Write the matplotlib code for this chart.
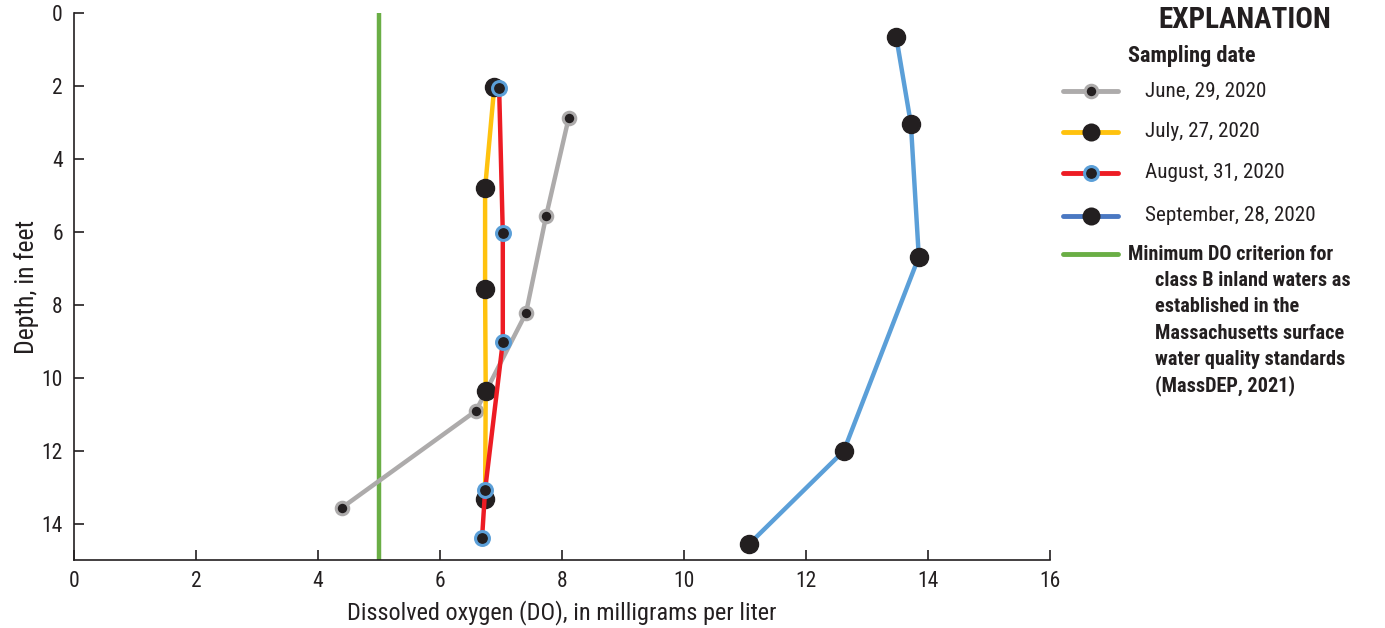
import matplotlib
matplotlib.use("Agg")
import matplotlib.pyplot as plt
from matplotlib.lines import Line2D

plt.rcParams["font.family"] = ["Roboto Condensed", "DejaVu Sans"]

# June 29, 2020
june_do = [8.11, 7.74, 7.41, 6.59, 4.39]
june_depth = [2.88, 5.57, 8.23, 10.91, 13.57]
# July 27, 2020
july_do = [6.89, 6.74, 6.74, 6.75, 6.74]
july_depth = [2.03, 4.80, 7.57, 10.36, 13.33]
# August 31, 2020
aug_do = [6.97, 7.03, 7.03, 6.74, 6.69]
aug_depth = [2.06, 6.03, 9.02, 13.08, 14.40]
# September 28, 2020
sep_do = [13.48, 13.72, 13.85, 12.62, 11.07]
sep_depth = [0.66, 3.04, 6.69, 12.01, 14.56]

min_do = 5.0

gray = "#ADABAB"
yellow = "#FFC20E"
red = "#ED1C24"
blue = "#5B9FD8"
blue_leg = "#4A78C2"
green = "#6AAE45"
dot = "#231F20"

fig = plt.figure(figsize=(13.85, 6.28), dpi=100)
ax = fig.add_axes([0.0534, 0.1083, 0.7047, 0.871])

ax.axvline(min_do, color=green, lw=3.2, zorder=1)
ax.plot(june_do, june_depth, color=gray, lw=3.2, marker="o", ms=9,
        mfc=dot, mec=gray, mew=2.2, zorder=2)
ax.plot(july_do, july_depth, color=yellow, lw=3.2, marker="o", ms=13,
        mfc=dot, mec=dot, zorder=3)
ax.plot(aug_do, aug_depth, color=red, lw=3.2, marker="o", ms=10,
        mfc=dot, mec=blue, mew=2.2, zorder=4)
ax.plot(sep_do, sep_depth, color=blue, lw=3.2, marker="o", ms=13,
        mfc=dot, mec=dot, zorder=3)

ax.set_xlim(0, 16)
ax.set_ylim(15, 0)
ax.set_xticks(range(0, 17, 2))
ax.set_yticks(range(0, 15, 2))
ax.tick_params(direction="in", length=7, width=1.2, labelsize=15.5, colors="#231F20", pad=8)
ax.spines["top"].set_visible(False)
ax.spines["right"].set_visible(False)
for s in ("left", "bottom"):
    ax.spines[s].set_linewidth(1.2)
    ax.spines[s].set_color("#231F20")
ax.set_xlabel("Dissolved oxygen (DO), in milligrams per liter", fontsize=17.5,
              labelpad=6, color="#231F20")
ax.set_ylabel("Depth, in feet", fontsize=18.5, labelpad=2, color="#231F20")

# explanation / legend, drawn in figure pixels
W, H = 1385, 628
def fx(px):
    return px / W
def fy(py):
    return 1 - py / H

fig.text(fx(1245), fy(20), "EXPLANATION", fontsize=21, fontweight="bold",
         ha="center", va="center", color="#231F20")
fig.text(fx(1128), fy(56), "Sampling date", fontsize=16, fontweight="bold",
         ha="left", va="center", color="#231F20")

entries = [
    ("June, 29, 2020", gray, 9, gray, 2.2),
    ("July, 27, 2020", yellow, 13, dot, 0),
    ("August, 31, 2020", red, 10, blue, 2.2),
    ("September, 28, 2020", blue_leg, 13, dot, 0),
]
ys = [91, 132, 173, 216]
for (label, col, ms, mec, mew), y in zip(entries, ys):
    fig.add_artist(Line2D([fx(1063), fx(1118)], [fy(y), fy(y)], color=col, lw=3.5,
                          solid_capstyle="round", transform=fig.transFigure))
    fig.add_artist(Line2D([fx(1091)], [fy(y)], marker="o", ms=ms, mfc=dot, mec=mec,
                          mew=mew, transform=fig.transFigure))
    fig.text(fx(1145), fy(y), label, fontsize=15.2, ha="left", va="center", color="#231F20")

fig.add_artist(Line2D([fx(1063), fx(1118)], [fy(254), fy(254)], color=green, lw=3.5,
                      solid_capstyle="round", transform=fig.transFigure))
crit_lines = ["Minimum DO criterion for", "class B inland waters as",
              "established in the", "Massachusetts surface",
              "water quality standards", "(MassDEP, 2021)"]
for i, t in enumerate(crit_lines):
    x = 1128 if i == 0 else 1155
    fig.text(fx(x), fy(254 + i * 26.4), t, fontsize=14.6, fontweight="bold",
             ha="left", va="center", color="#231F20")

fig.savefig("out.png", dpi=100)
